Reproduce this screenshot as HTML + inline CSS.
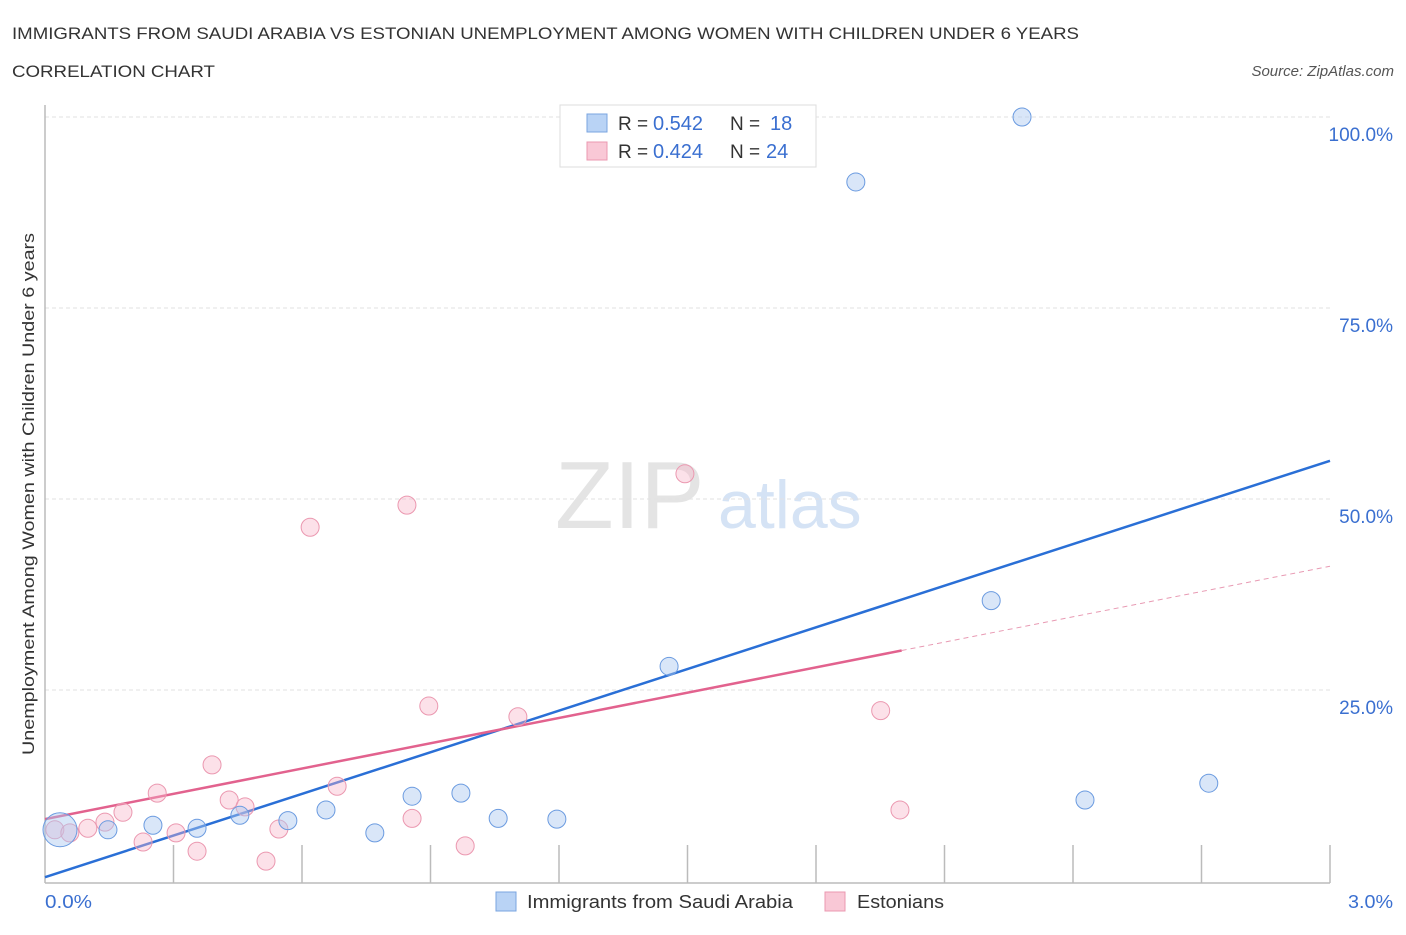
<!DOCTYPE html>
<html><head><meta charset="utf-8"><style>
body{margin:0;background:#fff;font-family:"Liberation Sans",sans-serif;}
svg text{font-family:"Liberation Sans",sans-serif;}
</style></head><body>
<svg id="chart" width="1406" height="930" xmlns="http://www.w3.org/2000/svg">
<text x="12" y="39" font-size="17" fill="#333" textLength="1067" lengthAdjust="spacingAndGlyphs">IMMIGRANTS FROM SAUDI ARABIA VS ESTONIAN UNEMPLOYMENT AMONG WOMEN WITH CHILDREN UNDER 6 YEARS</text>
<text x="12" y="77" font-size="17" fill="#333" textLength="203" lengthAdjust="spacingAndGlyphs">CORRELATION CHART</text>
<text x="1394" y="76" font-size="15" fill="#555" font-style="italic" text-anchor="end">Source: ZipAtlas.com</text>
<text x="555" y="528" font-size="96" fill="#e4e4e4" font-family="Liberation Serif">ZIP</text>
<text x="718" y="528" font-size="68" fill="#d5e3f5">atlas</text>
<g id="grid"></g>
<g id="axes"></g>
<g id="lines"></g>
<g id="points"></g>
<text transform="translate(34,494) rotate(-90)" font-size="17" fill="#333" text-anchor="middle" textLength="522" lengthAdjust="spacingAndGlyphs">Unemployment Among Women with Children Under 6 years</text>
<text x="45" y="908" font-size="18" fill="#3a6fd0" textLength="47" lengthAdjust="spacingAndGlyphs">0.0%</text>
<text x="1393" y="908" font-size="18" fill="#3a6fd0" text-anchor="end" textLength="45" lengthAdjust="spacingAndGlyphs">3.0%</text>
<g>
<rect x="560" y="105" width="256" height="62" fill="#fff" stroke="#ddd"/>
<rect x="587" y="114" width="20" height="18" fill="#b9d3f5" stroke="#7aa5e0"/>
<rect x="587" y="142" width="20" height="18" fill="#f9c8d6" stroke="#eb98b0"/>
<text x="618" y="130" font-size="19" fill="#333">R =</text><text x="653" y="130" font-size="20" fill="#3a6fd0">0.542</text>
<text x="730" y="130" font-size="19" fill="#333">N =</text><text x="770" y="130" font-size="20" fill="#3a6fd0">18</text>
<text x="618" y="158" font-size="19" fill="#333">R =</text><text x="653" y="158" font-size="20" fill="#3a6fd0">0.424</text>
<text x="730" y="158" font-size="19" fill="#333">N =</text><text x="766" y="158" font-size="20" fill="#3a6fd0">24</text>
</g>
<g>
<rect x="496" y="892" width="20" height="19" fill="#b9d3f5" stroke="#7aa5e0"/>
<text x="527" y="908" font-size="18" fill="#333" textLength="266" lengthAdjust="spacingAndGlyphs">Immigrants from Saudi Arabia</text>
<rect x="825" y="892" width="20" height="19" fill="#f9c8d6" stroke="#eb98b0"/>
<text x="857" y="908" font-size="18" fill="#333" textLength="87" lengthAdjust="spacingAndGlyphs">Estonians</text>
</g>
</svg>
<script>
const blueX=[0.035,0.147,0.252,0.355,0.455,0.567,0.656,0.770,0.857,0.971,1.058,1.195,1.457,1.893,2.209,2.281,2.428,2.717];
const blueY=[6.7,6.7,7.3,6.9,8.6,7.9,9.3,6.3,11.1,11.5,8.2,8.1,28.1,91.5,36.7,100,10.6,12.8];
const pinkX=[0.023,0.058,0.100,0.140,0.182,0.229,0.262,0.306,0.355,0.390,0.430,0.467,0.516,0.546,0.619,0.682,0.845,0.857,0.896,0.981,1.104,1.494,1.951,1.996];
const pinkY=[6.7,6.3,6.9,7.7,9.0,5.1,11.5,6.3,3.9,15.2,10.6,9.7,2.6,6.8,46.3,12.4,49.2,8.2,22.9,4.6,21.5,53.3,22.3,9.3];
const yTicks=[25,50,75,100];
const yTickLabels=["25.0%","50.0%","75.0%","100.0%"];
const blueTrend=[0.5,55.0];
const pinkTrend=[8.1,41.2];
const pinkSolidEnd=2.0;
const NS="http://www.w3.org/2000/svg";
function sx(v){return 45+v/3*1285;}
function sy(v){return 881-v/25*191;}
function mk(tag,attrs,parent){const e=document.createElementNS(NS,tag);for(const k in attrs)e.setAttribute(k,attrs[k]);document.getElementById(parent).appendChild(e);return e;}
yTicks.forEach((t,i)=>{
 const l=mk('line',{x1:45,x2:1330,y1:sy(t),y2:sy(t),stroke:'#e2e2e2','stroke-dasharray':'4,3'},'grid');
 
 
 const tx=mk('text',{x:1393,y:sy(t)+24,'font-size':19,fill:'#3a6fd0','text-anchor':'end'},'grid');
 tx.textContent=yTickLabels[i];
 
 
});
mk('line',{x1:45,x2:45,y1:105,y2:883,stroke:'#bbb','stroke-width':1.5},'axes');
mk('line',{x1:45,x2:1330,y1:883,y2:883,stroke:'#bbb','stroke-width':1.5},'axes');
for(let i=1;i<=10;i++){const x=sx(i*0.3);const t=mk('line',{x1:x,x2:x,y1:845,y2:883,stroke:'#bbb','stroke-width':1.5},'axes');
 
 }
function slope(tr,x){return tr[0]+(tr[1]-tr[0])*x/3;}
let b=mk('line',{x1:sx(0),y1:sy(blueTrend[0]),x2:sx(3),y2:sy(blueTrend[1]),stroke:'#2a6fd6','stroke-width':2.5},'lines');


let p=mk('line',{x1:sx(0),y1:sy(pinkTrend[0]),x2:sx(pinkSolidEnd),y2:sy(slope(pinkTrend,pinkSolidEnd)),stroke:'#e2628e','stroke-width':2.5},'lines');


let pd=mk('line',{x1:sx(pinkSolidEnd),y1:sy(slope(pinkTrend,pinkSolidEnd)),x2:sx(3),y2:sy(pinkTrend[1]),stroke:'#e89ab3','stroke-width':1,'stroke-dasharray':'5,4'},'lines');


pinkX.forEach((x,i)=>{const c=mk('circle',{cx:sx(x),cy:sy(pinkY[i]),r:9,fill:'rgba(247,180,200,0.4)',stroke:'#eb98b0','stroke-width':1},'points');
 
 });
blueX.forEach((x,i)=>{const c=mk('circle',{cx:sx(x),cy:sy(blueY[i]),r:i===0?17:9,fill:'rgba(170,200,240,0.45)',stroke:'#6b9be0','stroke-width':1},'points');
 
 });
</script>
</body></html>
